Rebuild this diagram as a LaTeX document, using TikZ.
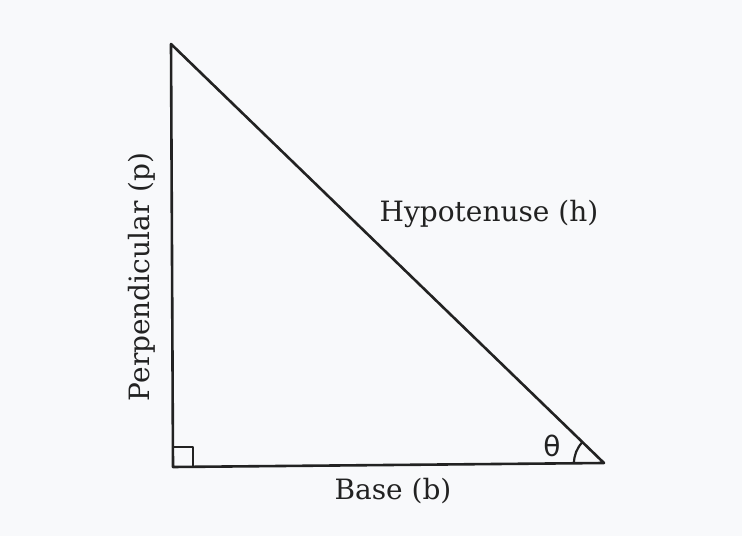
\documentclass[tikz,border=0pt]{standalone}
\usepackage{fontspec}
\setmainfont{DejaVu Serif}
\newfontfamily\thetafont{DejaVu Sans}
\usetikzlibrary{angles}
\definecolor{bgcol}{RGB}{248,249,251}
\definecolor{inkcol}{RGB}{34,34,34}

\begin{document}
\begin{tikzpicture}[>=latex,x=1pt,y=1pt,font=\fontsize{28}{32}\selectfont]
\tikzset{side/.style={draw=inkcol,line width=2.6pt,line join=round},
lbl/.style={text=inkcol,inner sep=0pt}}
\fill[bgcol] (0,0) rectangle (742,536);
\useasboundingbox (0,0) rectangle (742,536);

\coordinate (T) at (171,492);
\coordinate (L) at (173,69);
\coordinate (R) at (604,73);

\draw[side] (T) -- (L) -- (R) -- cycle;
\draw[side,line width=2.2pt] (L) ++(0,0) rectangle ++(20,20);
\pic[draw=inkcol,line width=2.2pt,angle radius=30pt] {angle=T--R--L};

\node[lbl] (hyp) at (489,322) {Hypotenuse (h)};
\node[lbl,rotate=90] (perp) at (142,259) {Perpendicular (p)};
\node[lbl] (base) at (393,45) {Base (b)};
\node[lbl] (theta) at (552,90) {\thetafont θ};
\end{tikzpicture}
\end{document}
